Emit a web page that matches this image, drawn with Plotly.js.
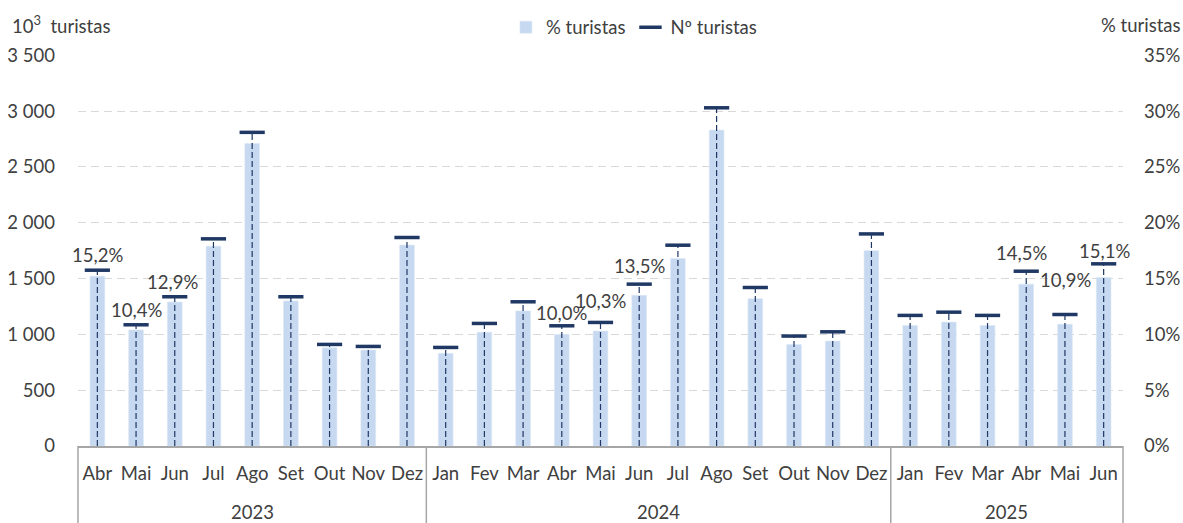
<!DOCTYPE html>
<html>
<head>
<meta charset="utf-8">
<script src="https://cdn.plot.ly/plotly-3.0.1.min.js"></script>
<style>
  html, body { margin: 0; padding: 0; background: #ffffff; }
  #chart { width: 1183px; height: 523px; }
</style>
</head>
<body>
<div id="chart"></div>
<script>
// ---- data ----
const years = ['2023','2023','2023','2023','2023','2023','2023','2023','2023',
  '2024','2024','2024','2024','2024','2024','2024','2024','2024','2024','2024','2024',
  '2025','2025','2025','2025','2025','2025'];
const months = ['Abr','Mai','Jun','Jul','Ago','Set','Out','Nov','Dez',
  'Jan','Fev','Mar','Abr','Mai','Jun','Jul','Ago','Set','Out','Nov','Dez',
  'Jan','Fev','Mar','Abr','Mai','Jun'];
// % turistas (right axis)
const pctTuristas = [15.2,10.4,12.9,17.9,27.1,13.0,8.8,8.6,18.0,
  8.3,10.2,12.1,10.0,10.3,13.5,16.8,28.3,13.2,9.1,9.4,17.5,
  10.8,11.1,10.8,14.5,10.9,15.1];
// Nº turistas, 10^3 (left axis)
const nTuristas = [1575,1086,1337,1856,2810,1337,910,892,1868,
  883,1098,1292,1077,1107,1450,1799,3030,1420,985,1023,1900,
  1170,1199,1170,1566,1178,1632];
// months whose % value is labelled
const labelledIdx = [0,1,2,12,13,14,24,25,26];

const leftTicks = [0,500,1000,1500,2000,2500,3000,3500];
const rightTicks = [0,5,10,15,20,25,30,35];

// ---- styling ----
const FONT = 'Lato, "Open Sans", sans-serif';
const TXT = '#404040';
const NAVY = '#1F3864';
const BAR = '#C6D9F1';
const AXC = '#A6A6A6';
const FS = 18.5;

// label offsets in px (style only)
const labelYShift = [15,15,15,13,21,18,18,35,13];
const labelXShift = [0,0,-2,0,0,0,-5,1,1];

// category positions
const pos = months.map((m, i) => i);
const xRange = [-0.5, months.length - 0.5];

// drop lines 0 -> value, built from data
const dropX = [], dropY = [];
nTuristas.forEach((v, i) => {
  dropX.push(pos[i], pos[i], null);
  dropY.push(0, v, null);
});

// year groups
const groups = [];
years.forEach((y, i) => {
  if (!groups.length || groups[groups.length - 1].year !== y) groups.push({ year: y, start: i, end: i });
  else groups[groups.length - 1].end = i;
});
const toPaper = v => (v - xRange[0]) / (xRange[1] - xRange[0]);
const BOTTOM = -77 / 391;

const traces = [
  {
    type: 'bar',
    name: '% turistas',
    x: pos,
    y: pctTuristas,
    yaxis: 'y',
    width: 0.38,
    marker: { color: BAR, line: { color: '#DCE7F5', width: 0.6 } },
    hoverinfo: 'y'
  },
  {
    type: 'scatter',
    mode: 'lines',
    x: dropX,
    y: dropY,
    yaxis: 'y2',
    connectgaps: false,
    showlegend: false,
    hoverinfo: 'skip',
    line: { color: NAVY, width: 1.2, dash: '6px,3px' }
  },
  {
    type: 'scatter',
    mode: 'markers',
    name: 'Nº turistas',
    x: pos,
    y: nTuristas,
    yaxis: 'y2',
    marker: { symbol: 'line-ew', size: 18, color: NAVY, line: { color: NAVY, width: 3.5 } }
  }
];

const annotations = labelledIdx.map((idx, k) => ({
  xref: 'x', yref: 'y2',
  x: pos[idx], y: nTuristas[idx],
  text: pctTuristas[idx].toFixed(1).replace('.', ',') + '%',
  showarrow: false,
  xanchor: 'center', yanchor: 'middle',
  yshift: labelYShift[k], xshift: labelXShift[k],
  font: { family: FONT, size: FS, color: TXT }
}));

groups.forEach(g => {
  annotations.push({
    xref: 'x', yref: 'paper',
    x: (g.start + g.end) / 2, y: BOTTOM, yshift: 11,
    xanchor: 'center', yanchor: 'middle', showarrow: false,
    text: g.year, borderpad: 0,
    font: { family: FONT, size: FS, color: TXT }
  });
});

annotations.push({
  xref: 'paper', yref: 'paper', x: -0.065, y: 1.077,
  xanchor: 'left', yanchor: 'middle', showarrow: false,
  text: '10<sup>3</sup>  turistas',
  font: { family: FONT, size: FS, color: TXT }
});
annotations.push({
  xref: 'paper', yref: 'paper', x: 1.057, y: 1.077,
  xanchor: 'right', yanchor: 'middle', showarrow: false,
  text: '% turistas',
  font: { family: FONT, size: FS, color: TXT }
});

const shapes = [];
const bounds = [groups[0].start - 0.5].concat(groups.map(g => g.end + 0.5));
bounds.forEach(b => {
  shapes.push({
    type: 'line', xref: 'paper', yref: 'paper',
    x0: toPaper(b), x1: toPaper(b), y0: 0, y1: BOTTOM,
    line: { color: AXC, width: 1.5 }
  });
});

const layout = {
  width: 1183, height: 523,
  margin: { l: 78, r: 60, t: 55, b: 77, autoexpand: false },
  paper_bgcolor: '#ffffff', plot_bgcolor: '#ffffff',
  separators: ', ',
  font: { family: FONT, size: FS, color: TXT },
  showlegend: true,
  legend: {
    orientation: 'h', x: 0.532, xanchor: 'center', y: 1.07, yanchor: 'middle',
    font: { family: FONT, size: FS, color: TXT },
    itemwidth: 30, tracegroupgap: 0, bgcolor: 'rgba(0,0,0,0)'
  },
  bargap: 0,
  xaxis: {
    type: 'linear',
    range: xRange,
    tickvals: pos,
    ticktext: months,
    tickangle: 0,
    showline: true, linecolor: AXC, linewidth: 1.5,
    showgrid: false, zeroline: false,
    ticks: '',
    ticklabelstandoff: 10,
    tickfont: { family: FONT, size: FS, color: TXT },
    fixedrange: true
  },
  yaxis: {
    side: 'right',
    range: [0, 35.03],
    tickvals: rightTicks,
    ticktext: rightTicks.map(v => v + '%'),
    showgrid: true, gridcolor: '#D9D9D9', gridwidth: 1, griddash: '8px,5px',
    zeroline: false, showline: false, ticks: '',
    ticklabelstandoff: 20,
    tickfont: { family: FONT, size: FS, color: TXT },
    fixedrange: true
  },
  yaxis2: {
    side: 'left', overlaying: 'y',
    range: [0, 3503],
    tickvals: leftTicks,
    tickformat: ',d',
    showgrid: false, zeroline: false, showline: false, ticks: '',
    ticklabelstandoff: 22,
    tickfont: { family: FONT, size: FS, color: TXT },
    fixedrange: true
  },
  shapes: shapes,
  annotations: annotations
};

Plotly.newPlot('chart', traces, layout, { displayModeBar: false, staticPlot: true });
</script>
</body>
</html>
